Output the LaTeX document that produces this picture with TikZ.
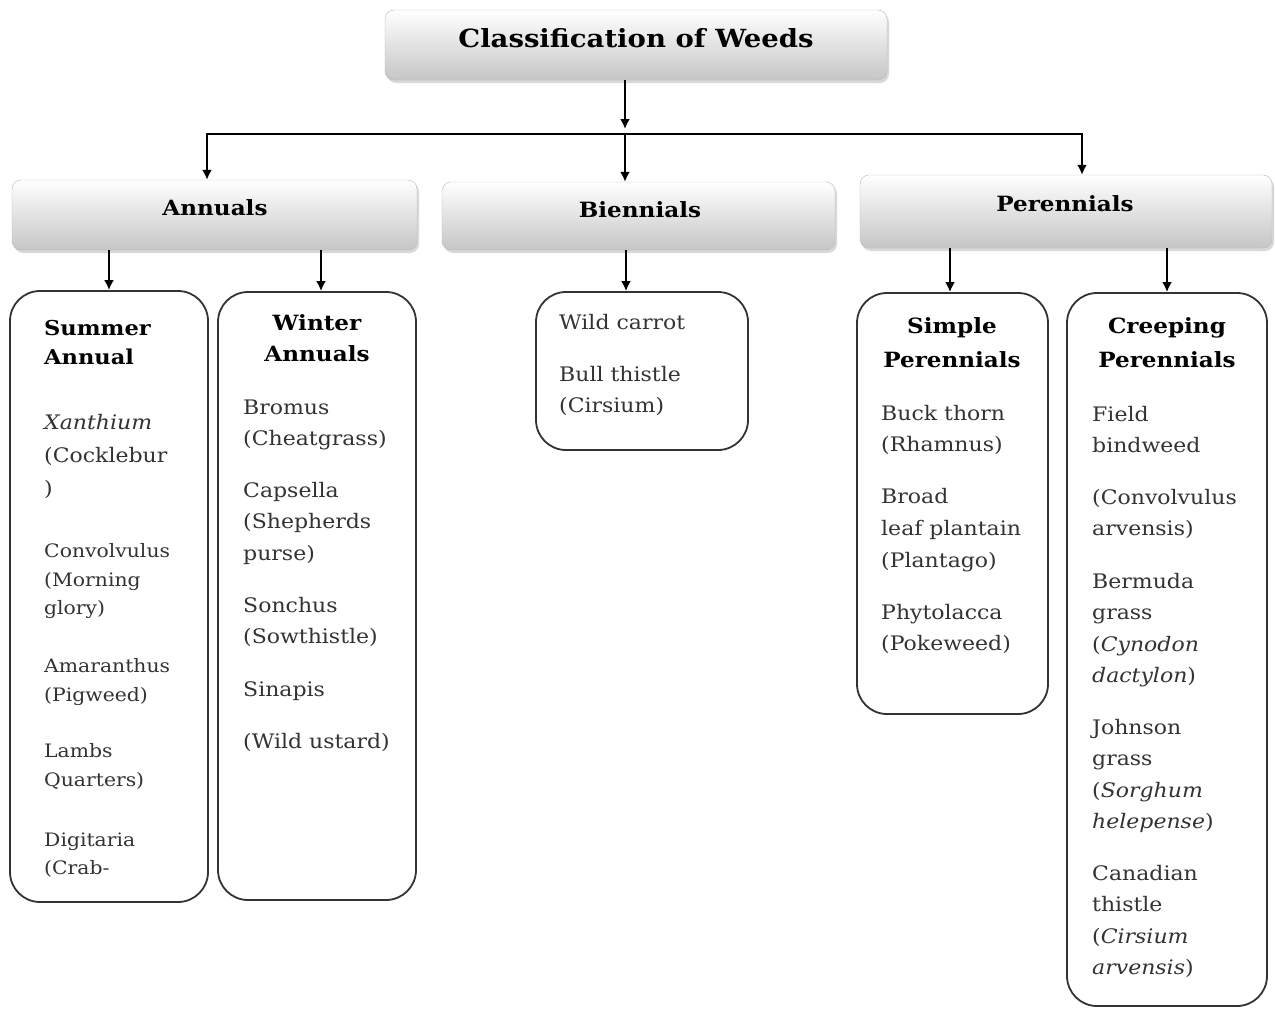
\documentclass[tikz,border=0pt]{standalone}
\usepackage{fontspec}
\setmainfont{DejaVu Serif}[FakeStretch=1.1]
\usetikzlibrary{arrows.meta,shadows}
\begin{document}
\begin{tikzpicture}[x=1pt,y=-1pt,
  headbox/.style={draw=gray!55, rounded corners=9pt, top color=white, bottom color=gray!45,
    drop shadow={opacity=0.3,shadow xshift=2pt,shadow yshift=-3pt}, inner sep=0pt},
  headtxt/.style={anchor=base, inner sep=0pt, font=\bfseries\fontsize{21}{25}\selectfont},
  listbox/.style={draw=black!80, line width=1.8pt, rounded corners=30pt, inner sep=0pt, fill=white},
  arr/.style={line width=2.6pt, -{Latex[length=10pt,width=10pt]}},
  txt/.style={anchor=base west, inner sep=0pt, font=\fontsize{20}{24}\selectfont, text=black!80},
  smalltxt/.style={anchor=base west, inner sep=0pt, font=\fontsize{18.5}{22}\selectfont, text=black!80},
  subtxt/.style={anchor=base, inner sep=0pt, font=\bfseries\fontsize{21}{25}\selectfont},
  subtxtl/.style={anchor=base west, inner sep=0pt, font=\bfseries\fontsize{20.5}{25}\selectfont}]
\useasboundingbox[fill=white] (0,0) rectangle (1275,1009);

% header boxes
\node[headbox, minimum width=502pt, minimum height=70pt] (title) at (636,45) {};
\node[headtxt, font=\bfseries\fontsize{25}{29}\selectfont] (titletxt) at (636,47) {Classification of Weeds};
\node[headbox, minimum width=405pt, minimum height=70pt] (annuals) at (214.5,215) {};
\node[headtxt] (annualstxt) at (215,215) {Annuals};
\node[headbox, minimum width=393pt, minimum height=68pt] (biennials) at (638.5,216) {};
\node[headtxt] (biennialstxt) at (640,217) {Biennials};
\node[headbox, minimum width=412pt, minimum height=73pt] (perennials) at (1066,211.5) {};
\node[headtxt] (perennialstxt) at (1065,211) {Perennials};

% list boxes
\node[listbox, minimum width=198pt, minimum height=611pt] (summer) at (109,596.5) {};
\node[listbox, minimum width=198pt, minimum height=608pt] (winter) at (317,596) {};
\node[listbox, minimum width=212pt, minimum height=158pt] (bienlist) at (642,371) {};
\node[listbox, minimum width=191pt, minimum height=421pt] (simple) at (952.5,503.5) {};
\node[listbox, minimum width=200pt, minimum height=713pt] (creeping) at (1167,649.5) {};

% connectors
\coordinate (bar) at (625,134);
\draw[arr, shorten >=5pt] (title.south -| bar) -- (bar);
\draw[arr] (bar) -- (bar |- biennials.north);
\draw[arr] (bar) -| ([xshift=-7.5pt]annuals.north);
\draw[arr] (bar) -| ([xshift=16pt]perennials.north);
\draw[arr] (summer.north |- annuals.south) -- (summer.north);
\draw[arr] ([xshift=4pt]winter.north |- annuals.south) -- ([xshift=4pt]winter.north);
\draw[arr] ([xshift=-16pt]bienlist.north |- biennials.south) -- ([xshift=-16pt]bienlist.north);
\draw[arr] ([xshift=-2.5pt]simple.north |- perennials.south) -- ([xshift=-2.5pt]simple.north);
\draw[arr] (creeping.north |- perennials.south) -- (creeping.north);

% Summer annual
\node[subtxtl] (sh1) at (44,335) {Summer};
\node[subtxtl] (sh2) at (44,364) {Annual};
\foreach \t/\y [count=\i] in {{\textit{Xanthium}}/429,{(Cocklebur}/462,{)}/495}
  \node[txt] (sa\i) at (44,\y) {\t};
\foreach \t/\y [count=\i] in {{Convolvulus}/557,{(Morning}/586,{glory)}/614,{Amaranthus}/672,{(Pigweed)}/701,{Lambs}/757,{Quarters)}/786,{Digitaria}/846,{(Crab-}/874}
  \node[smalltxt] (sb\i) at (44,\y) {\t};

% Winter annuals
\node[subtxt] (wh1) at (317,330) {Winter};
\node[subtxt] (wh2) at (317,361) {Annuals};
\foreach \t/\y [count=\i] in {{Bromus}/414,{(Cheatgrass)}/445,{Capsella}/497,{(Shepherds}/528,{purse)}/560,{Sonchus}/612,{(Sowthistle)}/643,{Sinapis}/696,{(Wild ustard)}/748}
  \node[txt] (w\i) at (243,\y) {\t};

% Biennials
\foreach \t/\y [count=\i] in {{Wild carrot}/329,{Bull thistle}/381,{(Cirsium)}/412}
  \node[txt] (b\i) at (559,\y) {\t};

% Simple perennials
\node[subtxt] (ph1) at (952,333) {Simple};
\node[subtxt] (ph2) at (952,367) {Perennials};
\foreach \t/\y [count=\i] in {{Buck thorn}/420,{(Rhamnus)}/451,{Broad}/503,{leaf plantain}/535,{(Plantago)}/567,{Phytolacca}/619,{(Pokeweed)}/650}
  \node[txt] (p\i) at (881,\y) {\t};

% Creeping perennials
\node[subtxt] (ch1) at (1167,333) {Creeping};
\node[subtxt] (ch2) at (1167,367) {Perennials};
\foreach \t/\y [count=\i] in {{Field}/421,{bindweed}/452,{(Convolvulus}/504,{arvensis)}/535,{Bermuda}/588,{grass}/619,{(\textit{Cynodon}}/651,{\textit{dactylon})}/682,{Johnson}/734,{grass}/765,{(\textit{Sorghum}}/797,{\textit{helepense})}/828,{Canadian}/880,{thistle}/911,{(\textit{Cirsium}}/943,{\textit{arvensis})}/974}
  \node[txt] (c\i) at (1092,\y) {\t};
\end{tikzpicture}
\end{document}
